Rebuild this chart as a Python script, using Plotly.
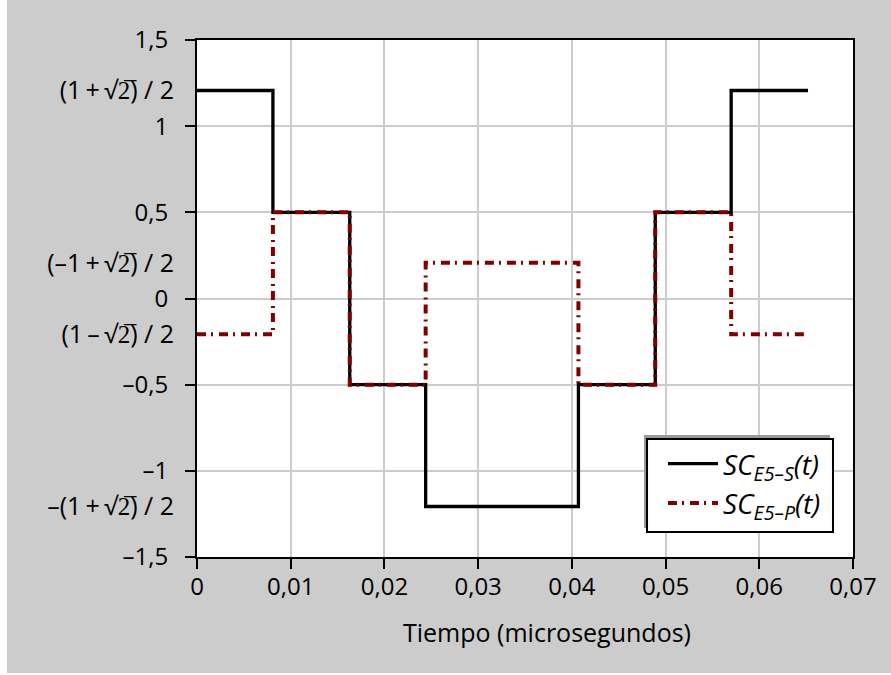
import plotly.graph_objects as go

# --- data ---
t_edges = [0, 0.0081, 0.0163, 0.0244, 0.0407, 0.0489, 0.0570, 0.0652]
s_levels = [1.2071, 0.5, -0.5, -1.2071, -0.5, 0.5, 1.2071]
p_levels = [-0.2071, 0.5, -0.5, 0.2071, -0.5, 0.5, -0.2071]

x_tickvals = [0, 0.01, 0.02, 0.03, 0.04, 0.05, 0.06, 0.07]
x_ticktext = ["0", "0,01", "0,02", "0,03", "0,04", "0,05", "0,06", "0,07"]
y_tickvals = [1.5, 1, 0.5, 0, -0.5, -1, -1.5]
y_ticktext = ["1,5", "1", "0,5", "0", "–0,5", "–1", "–1,5"]
y_special_vals = [1.2071, 0.2071, -0.2071, -1.2071]
y_special_text = ["(1\u2009+\u2009√2\u0305) / 2", "(–1\u2009+\u2009√2\u0305) / 2",
                  "(1\u2009–\u2009√2\u0305) / 2", "–(1\u2009+\u2009√2\u0305) / 2"]

FONT = "Open Sans"

fig = go.Figure()
fig.add_trace(go.Scatter(
    x=t_edges, y=s_levels + [s_levels[-1]], mode="lines", line_shape="hv",
    line=dict(color="black", width=3.3),
    name="<i>SC<sub>E5–S</sub>(t)</i>\u00a0"))
fig.add_trace(go.Scatter(
    x=t_edges, y=p_levels + [p_levels[-1]], mode="lines", line_shape="hv",
    line=dict(color="#800000", width=4, dash="9px,5px,2px,6px"),
    name="<i>SC<sub>E5–P</sub>(t)</i>\u00a0"))
# invisible trace to carry the second y-axis labels
fig.add_trace(go.Scatter(x=[0], y=[0], yaxis="y2", mode="markers",
                         marker=dict(opacity=0), showlegend=False, hoverinfo="skip"))

fig.update_layout(
    width=891, height=675,
    margin=dict(l=197, r=38, t=40, b=118),
    paper_bgcolor="#cccccc", plot_bgcolor="white",
    font=dict(family=FONT, size=24, color="black"),
    xaxis=dict(range=[0, 0.07], tickvals=x_tickvals, ticktext=x_ticktext,
               showgrid=True, gridcolor="#cccccc", gridwidth=2,
               showline=True, mirror=True, linecolor="black", linewidth=2,
               ticks="outside", ticklen=10, tickwidth=2, tickcolor="black",
               zeroline=False, fixedrange=True, automargin=False,
               ticklabelstandoff=-3),
    yaxis=dict(range=[-1.5, 1.5], tickvals=y_tickvals, ticktext=y_ticktext,
               showgrid=True, gridcolor="#cccccc", gridwidth=2,
               showline=True, mirror=True, linecolor="black", linewidth=2,
               ticks="outside", ticklen=10, tickwidth=2, tickcolor="black",
               zeroline=False, ticklabelstandoff=12, automargin=False),
    yaxis2=dict(range=[-1.5, 1.5], overlaying="y", side="left",
                tickvals=y_special_vals, ticktext=y_special_text,
                showgrid=False, zeroline=False, showline=False, ticks="",
                ticklabelstandoff=22, tickfont=dict(size=25), automargin=False),
    showlegend=True,
    legend=dict(x=0.9695, y=0.2282, xanchor="right", yanchor="top",
                bgcolor="rgba(0,0,0,0)", borderwidth=0,
                font=dict(size=28), tracegroupgap=0, itemwidth=50),
    annotations=[dict(text="Tiempo (microsegundos)", x=0.533, y=-0.145,
                      xref="paper", yref="paper", showarrow=False,
                      xanchor="center", yanchor="middle", font=dict(size=25))],
    shapes=[
        # legend shadow and frame
        dict(type="rect", xref="paper", yref="paper", x0=0.6814, x1=0.965,
             y0=0.0561, y1=0.236, fillcolor="#999999", line_width=0, layer="above"),
        dict(type="rect", xref="paper", yref="paper", x0=0.686, x1=0.9695,
             y0=0.0484, y1=0.2282, fillcolor="white",
             line=dict(color="black", width=2), layer="above"),
        # white page edges
        dict(type="rect", xref="paper", yref="paper", x0=-0.32, x1=-0.2896,
             y0=-0.3, y1=1.2, fillcolor="white", line_width=0, layer="below"),
        dict(type="rect", xref="paper", yref="paper", x0=-0.32, x1=1.1,
             y0=-0.235, y1=-0.2245, fillcolor="white", line_width=0, layer="below"),
    ],
)

fig.write_html("out.html", config={"displayModeBar": False},
               post_script="document.body.style.margin='0px';")
